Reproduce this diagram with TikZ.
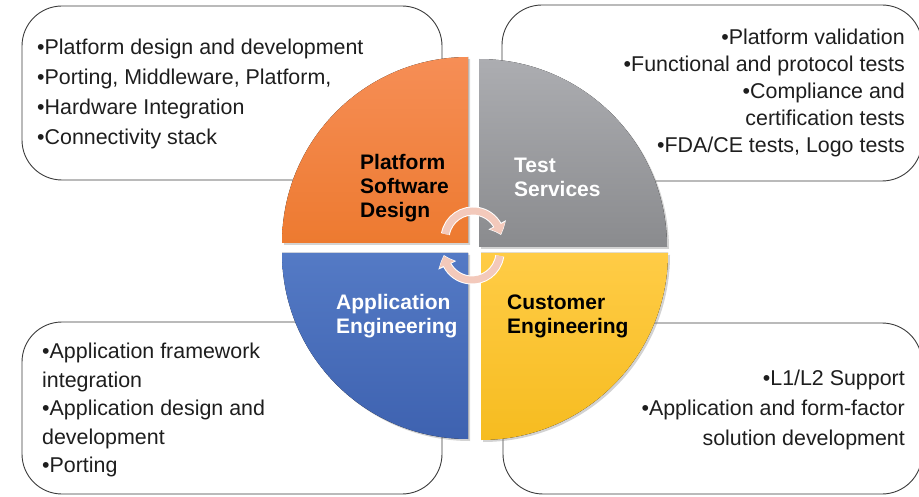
\documentclass[tikz,border=0pt]{standalone}
\usepackage{fontspec}
\setmainfont{Liberation Sans}
\usetikzlibrary{arrows.meta,bending,shadows,calc}
\definecolor{boxline}{RGB}{60,60,60}
\definecolor{txt}{RGB}{30,30,30}
\definecolor{orangeT}{RGB}{246,142,86}
\definecolor{orangeB}{RGB}{237,122,48}
\definecolor{grayT}{RGB}{172,173,177}
\definecolor{grayB}{RGB}{138,139,142}
\definecolor{blueT}{RGB}{84,122,197}
\definecolor{blueB}{RGB}{62,98,176}
\definecolor{yellowT}{RGB}{255,204,70}
\definecolor{yellowB}{RGB}{246,188,32}
\definecolor{arrowpink}{RGB}{243,201,187}
\tikzset{
  infobox/.style={draw=boxline, line width=0.9pt, rounded corners=40pt, fill=white, inner sep=0pt},
  bullettext/.style={text=txt, inner sep=0pt, font=\fontsize{21.4}{30.3}\selectfont},
  quad/.style={drop shadow={opacity=0.35, shadow xshift=2pt, shadow yshift=-2pt}},
  quadlabel/.style={inner sep=0pt, align=left, font=\fontsize{21}{24}\selectfont\bfseries},
  cyclearrow/.style={line width=7pt, draw=arrowpink, -{Triangle[width=16pt,length=9pt,bend]}},
  cycleedge/.style={line width=9pt, draw=white, -{Triangle[width=19pt,length=11pt,bend]}},
}
\begin{document}
\begin{tikzpicture}[x=1pt,y=1pt]
\useasboundingbox (0,0) rectangle (919,496);
% outer boxes
\node[infobox, minimum width=420pt, minimum height=174pt] (tlbox) at (232,403) {};
\node[infobox, minimum width=420pt, minimum height=176pt] (trbox) at (712,403) {};
\node[infobox, minimum width=420pt, minimum height=172pt] (blbox) at (232,88) {};
\node[infobox, minimum width=419pt, minimum height=171pt] (brbox) at (712.5,87.5) {};
% box texts
\node[bullettext, anchor=west, align=left] (tltext) at (37,402) {%
  •Platform design and development\\
  •Porting, Middleware, Platform,\\
  •Hardware Integration\\
  •Connectivity stack};
\node[bullettext, anchor=east, align=right, font=\fontsize{21.4}{27.2}\selectfont] (trtext) at (905,403) {%
  •Platform validation\\
  •Functional and protocol tests\\
  •Compliance and\\
  certification tests\\
  •FDA/CE tests, Logo tests};
\node[bullettext, anchor=west, align=left, font=\fontsize{21.4}{28.5}\selectfont] (bltext) at (42,86) {%
  •Application framework\\
  integration\\
  •Application design and\\
  development\\
  •Porting};
\node[bullettext, anchor=east, align=right, font=\fontsize{21.4}{30}\selectfont] (brtext) at (905,86.5) {%
  •L1/L2 Support\\
  •Application and form-factor\\
  solution development};
% quadrants
\fill[quad, top color=orangeT, bottom color=orangeB] (468,253) -- (282,253) arc[start angle=180, end angle=90, radius=186] -- cycle;
\fill[quad, top color=grayT, bottom color=grayB] (479,249) -- (479,437) arc[start angle=90, end angle=0, radius=188] -- cycle;
\fill[quad, top color=blueT, bottom color=blueB] (468,243) -- (282,243) arc[start angle=180, end angle=270, radius=186] -- cycle;
\fill[quad, top color=yellowT, bottom color=yellowB] (481,243) -- (668,243) arc[start angle=0, end angle=-90, radius=187] -- cycle;
% quadrant labels
\node[quadlabel, anchor=west, text=black] (psd) at (360,308) {Platform\\Software\\Design};
\node[quadlabel, anchor=west, text=white] (ts) at (514,318.5) {Test\\Services};
\node[quadlabel, anchor=west, text=white] (ae) at (336,180) {Application\\Engineering};
\node[quadlabel, anchor=west, text=black] (ce) at (507,180) {Customer\\Engineering};
% cycle arrows
\coordinate (topc) at (473,257);
\coordinate (botc) at (472,244);
\draw[cycleedge] ($(topc)+(170:28)$) arc[start angle=170, end angle=8, radius=28];
\draw[cyclearrow] ($(topc)+(170:28)$) arc[start angle=170, end angle=10, radius=28];
\draw[cycleedge] ($(botc)+(-8:28)$) arc[start angle=-8, end angle=-174, radius=28];
\draw[cyclearrow] ($(botc)+(-8:28)$) arc[start angle=-8, end angle=-172, radius=28];
\end{tikzpicture}
\end{document}
